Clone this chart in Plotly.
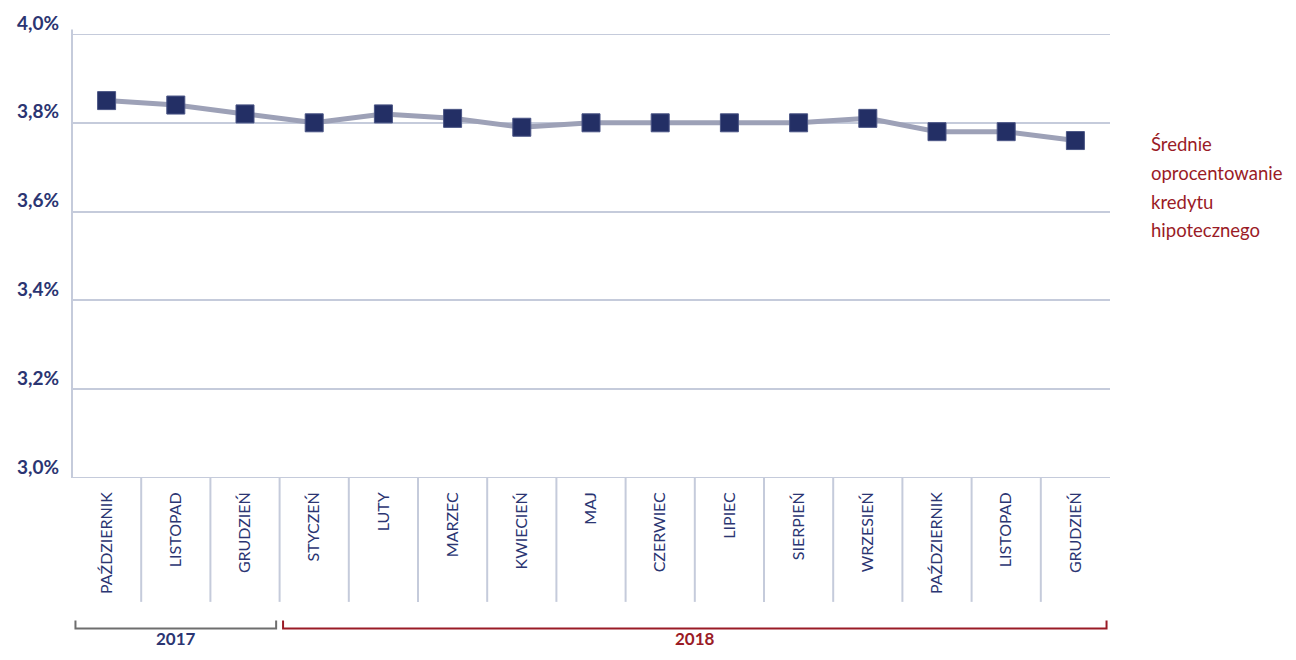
import plotly.graph_objects as go

# data
months = ["PAŹDZIERNIK", "LISTOPAD", "GRUDZIEŃ", "STYCZEŃ", "LUTY", "MARZEC",
          "KWIECIEŃ", "MAJ", "CZERWIEC", "LIPIEC", "SIERPIEŃ", "WRZESIEŃ",
          "PAŹDZIERNIK", "LISTOPAD", "GRUDZIEŃ"]
rate = [3.85, 3.84, 3.82, 3.80, 3.82, 3.81, 3.79, 3.80, 3.80, 3.80,
        3.80, 3.81, 3.78, 3.78, 3.76]
years = ["2017", "2018"]
year_first = [0, 3]
year_last = [2, 14]
y_ticks = [3.0, 3.2, 3.4, 3.6, 3.8, 4.0]
series_lines = ["Średnie", "oprocentowanie", "kredytu", "hipotecznego"]

NAVY = "#232f65"
TEXT_NAVY = "#2b3572"
RED = "#9a1b26"
GRID = "#c5cbdb"
LINE = "#9da1b7"
GRAY = "#6e6e6e"

x = list(range(len(months)))

fig = go.Figure()
fig.add_trace(go.Scatter(
    x=x, y=rate, mode="lines+markers",
    line=dict(color=LINE, width=5),
    marker=dict(symbol="square", size=18, color=NAVY,
                line=dict(color="#4a5585", width=1)),
    showlegend=False, hoverinfo="skip",
))

shapes = []
# baseline, top line and left axis
for yv in (y_ticks[0], y_ticks[-1]):
    shapes.append(dict(type="line", xref="paper", yref="y", x0=0, x1=1, y0=yv, y1=yv,
                       line=dict(color=GRID, width=2), layer="below"))
shapes.append(dict(type="line", xref="paper", yref="paper", x0=0, x1=0, y0=0, y1=1.01,
                   line=dict(color=GRID, width=2)))
# category separators below the plot
for i in range(len(months) - 1):
    shapes.append(dict(type="line", xref="x", yref="paper", x0=i + 0.5, x1=i + 0.5,
                       y0=0, y1=-0.279, line=dict(color=GRID, width=2)))

annotations = []
# year brackets
for k, yr in enumerate(years):
    col = GRAY if k == 0 else RED
    tcol = TEXT_NAVY if k == 0 else RED
    x0 = year_first[k] - 0.45
    x1 = year_last[k] + 0.45
    shapes.append(dict(type="path", xref="x", yref="paper",
                       path=f"M {x0},-0.321 L {x0},-0.339 L {x1},-0.339 L {x1},-0.321",
                       line=dict(color=col, width=2)))
    annotations.append(dict(x=(year_first[k] + year_last[k]) / 2, y=-0.3626,
                            xref="x", yref="paper", yanchor="middle",
                            text=f"<b>{yr}</b>", showarrow=False,
                            font=dict(size=17, color=tcol, family="Lato")))

# series label on the right, one line at a time for the wider line spacing
for k, txt in enumerate(series_lines):
    annotations.append(dict(x=1.0375, y=0.752 - k * 0.0648, xref="paper", yref="paper",
                            xanchor="left", yanchor="middle", align="left", text=txt,
                            showarrow=False,
                            font=dict(size=18.5, color=RED, family="Lato")))

# page body has an 8px margin, so the figure is sized to fit the window
fig.update_layout(
    width=1280, height=644,
    margin=dict(l=64, r=178, t=26, b=174),
    paper_bgcolor="white", plot_bgcolor="white",
    font=dict(family="Lato", color=TEXT_NAVY),
    shapes=shapes, annotations=annotations,
    xaxis=dict(
        range=[-0.5, len(months) - 0.5], automargin=False,
        tickmode="array", tickvals=x, ticktext=months,
        tickangle=-90, showgrid=False, zeroline=False, showline=False,
        ticks="", ticklabelstandoff=10,
        tickfont=dict(size=16, color=TEXT_NAVY, family="Lato"),
    ),
    yaxis=dict(
        range=[3.0, 4.0], automargin=False,
        tickmode="array", tickvals=y_ticks,
        ticktext=[f"<b>{v:.1f}%</b>".replace(".", ",") for v in y_ticks],
        showgrid=True, gridcolor=GRID, gridwidth=2,
        zeroline=False, showline=False, ticks="",
        ticklabelshift=-11, ticklabelstandoff=12,
        tickfont=dict(size=19, color=TEXT_NAVY, family="Lato"),
    ),
)

fig.write_html("out.html")
